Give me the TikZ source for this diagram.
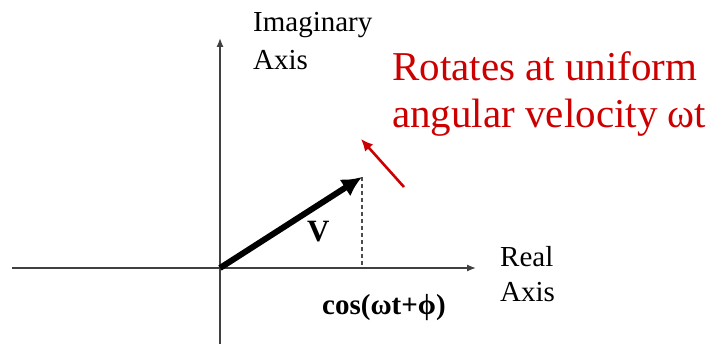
\documentclass[tikz,border=0pt]{standalone}
\usepackage{fontspec}
\setmainfont{Liberation Serif}
\usetikzlibrary{arrows.meta}
\definecolor{myred}{RGB}{204,0,0}
\begin{document}
\begin{tikzpicture}[x=1pt,y=-1pt,
  axisline/.style={draw=black!75, line width=1.3pt, -{Latex[length=9pt,width=7pt]}},
  lbl/.style={inner sep=0pt, anchor=north west, align=left, font=\fontsize{29}{#1}\selectfont},
  redlbl/.style={inner sep=0pt, anchor=north west, align=left, text=myred, font=\fontsize{41}{47}\selectfont},
  boldlbl/.style={inner sep=0pt, anchor=base west, font=\bfseries\fontsize{#1}{#1}\selectfont},
  vec/.style={draw=black, line width=6pt, -{Latex[length=20pt,width=20pt]}},
  rotarrow/.style={draw=myred, line width=2.6pt, -{Latex[length=12pt,width=11pt]}},
  proj/.style={draw=black!70, line width=1.2pt, dash pattern=on 4pt off 3pt}]
\useasboundingbox (0,0) rectangle (711,344);
% coordinates
\coordinate (O) at (220,268);
\coordinate (ybot) at (220,344);
\coordinate (ytop) at (220,38);
\coordinate (xleft) at (12,268);
\coordinate (xright) at (476,268);
\coordinate (tip) at (362,177);
\coordinate (foot) at (362,268);
\coordinate (rtail) at (404,187);
\coordinate (rhead) at (361,139);
% axes
\draw[axisline] (ybot) -- (ytop);
\draw[axisline] (xleft) -- (xright);
% projection
\draw[proj] (tip) -- (foot);
% vector
\draw[vec] (O) -- (tip);
% rotation arrow
\draw[rotarrow] (rtail) -- (rhead);
% labels
\node[lbl=38] (imag) at (253,12) {Imaginary\\Axis};
\node[lbl=35] (real) at (500,246) {Real\\Axis};
\node[redlbl] (rot) at (392,51) {Rotates at uniform\\angular velocity ωt};
\node[boldlbl=31] (V) at (307,242) {V};
\node[boldlbl=29] (cos) at (322,314) {cos(ωt+ϕ)};
\end{tikzpicture}
\end{document}
